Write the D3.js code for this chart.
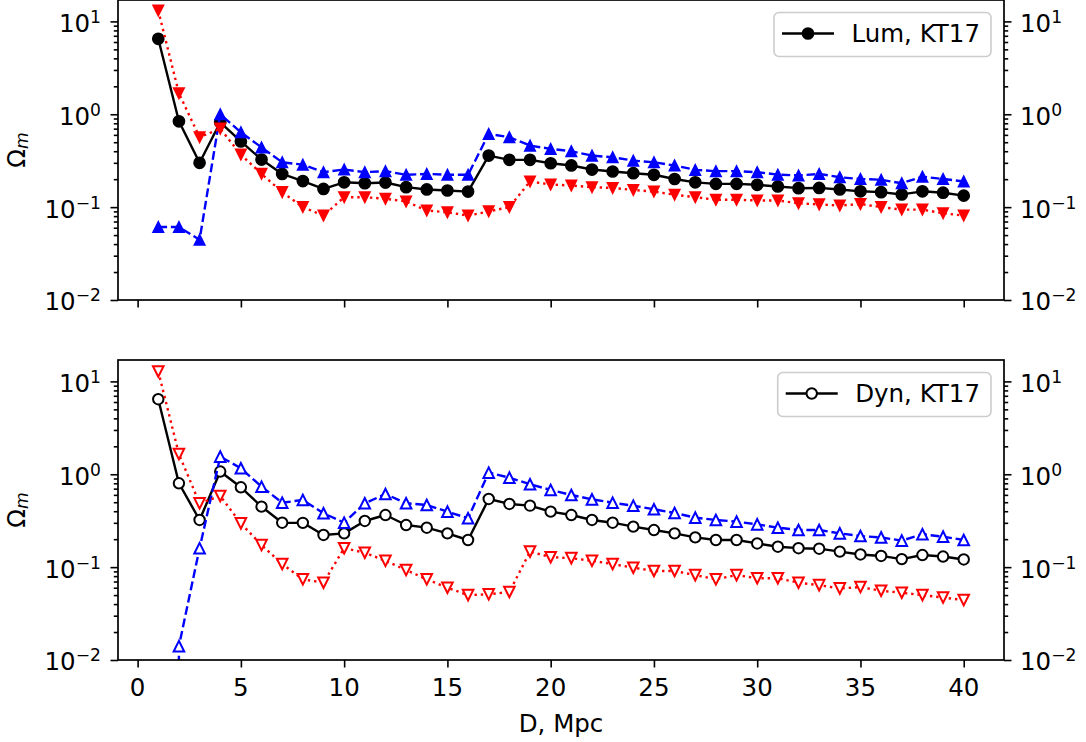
<!DOCTYPE html>
<html><head><meta charset="utf-8">
<script src="https://cdn.jsdelivr.net/npm/d3@7"></script>
<style>body{margin:0;background:#fff}svg{display:block}text{font-family:"DejaVu Sans",sans-serif;fill:#000}</style>
</head><body><svg id="c" width="1086" height="742"></svg>
<script>
// ---- data ----
const D = [1,2,3,4,5,6,7,8,9,10,11,12,13,14,15,16,17,18,19,20,21,22,23,24,25,26,27,28,29,30,31,32,33,34,35,36,37,38,39,40];
const lumBlack = [6.5,0.84,0.30,0.82,0.51,0.325,0.228,0.191,0.157,0.185, 0.181,0.184,0.164,0.155,0.151,0.147,0.359,0.323,0.323,0.297, 0.281,0.254,0.242,0.232,0.223,0.201,0.185,0.178,0.178,0.174, 0.167,0.160,0.161,0.155,0.148,0.145,0.137,0.148,0.143,0.133];
const lumBlue = [0.061,0.061,0.0445,1.0,0.64,0.44,0.304,0.287,0.238,0.254, 0.238,0.244,0.223,0.228,0.223,0.223,0.615,0.566,0.46,0.424, 0.40,0.359,0.344,0.317,0.304,0.281,0.252,0.244,0.244,0.238, 0.224,0.219,0.228,0.21,0.201,0.197,0.181,0.213,0.201,0.189];
const lumRed = [13.1,1.68,0.566,0.70,0.368,0.228,0.145,0.10,0.081,0.128, 0.128,0.123,0.115,0.092,0.088,0.081,0.090,0.10,0.189,0.175, 0.171,0.164,0.161,0.153,0.147,0.136,0.128,0.12,0.12,0.118, 0.118,0.110,0.107,0.104,0.108,0.10,0.094,0.094,0.086,0.081];
const dynBlack = [6.43,0.80,0.322,1.07,0.724,0.448,0.301,0.30,0.222,0.231, 0.314,0.364,0.284,0.266,0.231,0.196,0.542,0.479,0.459,0.396, 0.364,0.322,0.301,0.273,0.251,0.231,0.209,0.196,0.196,0.18, 0.166,0.16,0.158,0.147,0.137,0.132,0.122,0.135,0.130,0.121];
const dynBlue = [0,0.0141,0.16,1.55,1.16,0.735,0.494,0.529,0.38,0.301, 0.487,0.613,0.487,0.467,0.396,0.336,1.04,0.92,0.78,0.678, 0.598,0.537,0.494,0.459,0.42,0.383,0.341,0.322,0.309,0.289, 0.266,0.251,0.251,0.231,0.216,0.209,0.193,0.226,0.213,0.196];
const dynRed = [12.8,1.65,0.487,0.584,0.296,0.173,0.108,0.074,0.068,0.16, 0.143,0.117,0.093,0.074,0.06,0.050,0.051,0.054,0.147,0.128, 0.125,0.117,0.108,0.0986,0.091,0.091,0.082,0.074,0.082,0.076, 0.076,0.068,0.064,0.059,0.061,0.0557,0.053,0.050,0.047,0.0442];
const xTicks = [0,5,10,15,20,25,30,35,40];
const yMajor = [0.01,0.1,1,10];
const yExp = [-2,-1,0,1];
const legendLabels = ["Lum, KT17","Dyn, KT17"];
const xLabel = "D, Mpc";

// ---- layout ----
const svg = d3.select("#c");
const FS = 24.5, left = 118, right = 1004;
const x = d3.scaleLinear().domain([-0.95, 41.95]).range([left, right]);
const panels = [
  {top:0, bottom:300, series:[lumBlack,lumBlue,lumRed], filled:true, label:legendLabels[0], xl:false},
  {top:360, bottom:660, series:[dynBlack,dynBlue,dynRed], filled:false, label:legendLabels[1], xl:true}
];
const styles = [
  {color:"#000000", dash:null, marker:"o"},
  {color:"#0000ff", dash:"8.8,3.8", marker:"^"},
  {color:"#ff0000", dash:"2.4,3.9", marker:"v"}
];
const safe = v => v > 0 ? v : 1e-300;
const S = 5.3;
function markerPath(m){
  if (m === "^") return `M0,${-S}L${-S},${S}L${S},${S}Z`;
  if (m === "v") return `M0,${S}L${-S},${-S}L${S},${-S}Z`;
  return null;
}
function drawMarker(g, m, cx, cy, color, filled){
  let el;
  if (m === "o") el = g.append("circle").attr("cx",cx).attr("cy",cy).attr("r", filled?5.6:5.2);
  else el = g.append("path").attr("d", markerPath(m)).attr("transform",`translate(${cx},${cy})`).attr("stroke-linejoin","miter");
  el.attr("fill", filled ? color : "#fff").attr("stroke", color).attr("stroke-width", filled?1.5:2);
  return el;
}
function sci(sel, e){
  sel.append("tspan").text("10");
  sel.append("tspan").attr("dy",-9).attr("font-size",FS*0.7).text(e<0 ? "\u2212"+(-e) : String(e));
}

panels.forEach((p,i)=>{
  const y = d3.scaleLog().domain([0.01, 17]).range([p.bottom, p.top]);
  const yMinor = y.ticks().filter(t => Math.abs(Math.log10(t) - Math.round(Math.log10(t))) > 1e-6);
  const clipId = "clip"+i;
  svg.append("clipPath").attr("id",clipId).append("rect")
    .attr("x",left).attr("y",p.top).attr("width",right-left).attr("height",p.bottom-p.top);
  const dg = svg.append("g").attr("clip-path",`url(#${clipId})`);
  p.series.forEach((vals,k)=>{
    const st = styles[k];
    const line = d3.line().x((d,j)=>x(D[j])).y(d=>y(safe(d)));
    dg.append("path").datum(vals).attr("d",line).attr("fill","none")
      .attr("stroke",st.color).attr("stroke-width",2.4)
      .attr("stroke-dasharray",st.dash).attr("stroke-linejoin","round").attr("stroke-linecap", st.dash?"butt":"round");
    const mg = dg.append("g");
    vals.forEach((v,j)=>{ if (v>0) drawMarker(mg, st.marker, x(D[j]), y(v), st.color, p.filled); });
  });
  // axes ticks
  const tickStyle = s => s.call(a=>a.select(".domain").remove())
                          .call(a=>a.selectAll("line").attr("stroke","#000").attr("stroke-width",1.6));
  svg.append("g").attr("transform",`translate(${left},0)`)
    .call(d3.axisLeft(y).tickValues(yMajor).tickSize(7.5).tickFormat(()=>"")).call(tickStyle);
  svg.append("g").attr("transform",`translate(${left},0)`)
    .call(d3.axisLeft(y).tickValues(yMinor).tickSize(4.2).tickFormat(()=>"")).call(tickStyle);
  svg.append("g").attr("transform",`translate(${right},0)`)
    .call(d3.axisRight(y).tickValues(yMajor).tickSize(7.5).tickFormat(()=>"")).call(tickStyle);
  svg.append("g").attr("transform",`translate(${right},0)`)
    .call(d3.axisRight(y).tickValues(yMinor).tickSize(4.2).tickFormat(()=>"")).call(tickStyle);
  svg.append("g").attr("transform",`translate(0,${p.bottom})`)
    .call(d3.axisBottom(x).tickValues(xTicks).tickSize(7.5).tickFormat(()=>"")).call(tickStyle);
  // y tick labels
  yMajor.forEach((t,k)=>{
    const ty = y(t) + 10.4;
    sci(svg.append("text").attr("x",101).attr("y",ty).attr("text-anchor","end").attr("font-size",FS), yExp[k]);
    sci(svg.append("text").attr("x",1020).attr("y",ty).attr("text-anchor","start").attr("font-size",FS), yExp[k]);
  });
  if (p.xl) {
    xTicks.forEach(t=>{
      svg.append("text").attr("x",x(t)).attr("y",696).attr("text-anchor","middle").attr("font-size",FS).text(String(t));
    });
  }
  // y label
  const yl = svg.append("text").attr("transform",`translate(25,${(p.top+p.bottom)/2}) rotate(-90)`)
    .attr("text-anchor","middle").attr("font-size",FS);
  yl.append("tspan").text("\u03A9");
  yl.append("tspan").attr("dy",3).attr("font-size",FS*0.7).attr("font-style","italic").text("m");
  // frame
  svg.append("rect").attr("x",left).attr("y",p.top).attr("width",right-left).attr("height",p.bottom-p.top)
    .attr("fill","none").attr("stroke","#000").attr("stroke-width",1.7);
  // legend
  const lg = svg.append("g");
  const box = lg.append("rect");
  const txt = lg.append("text").attr("font-size",FS).text(p.label);
  const tw = txt.node().getComputedTextLength();
  const boxR = 991, textStart = boxR - 11 - tw, lineEnd = textStart - 17.5, lineStart = lineEnd - 52, boxL = lineStart - 8;
  const ly = p.top + 33.5;
  box.attr("x",boxL).attr("y",p.top+12.5).attr("width",boxR-boxL).attr("height",44).attr("rx",5)
     .attr("fill","#fff").attr("fill-opacity",0.8).attr("stroke","#cccccc").attr("stroke-width",1.6);
  txt.attr("x",textStart).attr("y",p.top+42).raise();
  lg.append("line").attr("x1",lineStart).attr("x2",lineEnd).attr("y1",ly).attr("y2",ly).attr("stroke","#000").attr("stroke-width",2.4);
  drawMarker(lg, "o", (lineStart+lineEnd)/2, ly, "#000", p.filled);
});
svg.append("text").attr("x",(left+right)/2).attr("y",732).attr("text-anchor","middle").attr("font-size",FS).text(xLabel);
</script></body></html>
